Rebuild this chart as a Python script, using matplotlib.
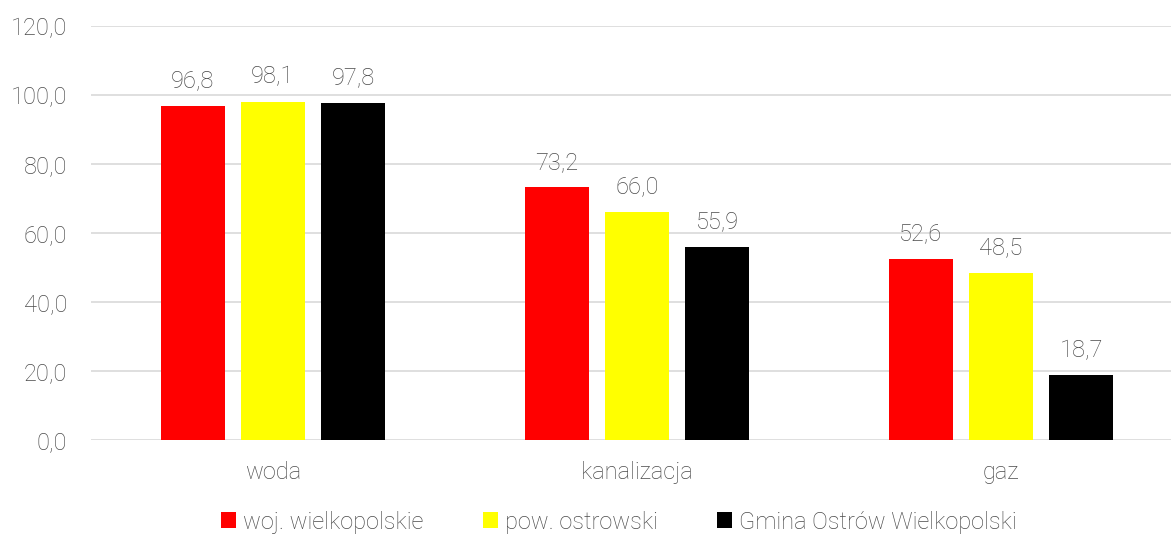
import numpy as np
import matplotlib.pyplot as plt

categories = ["woda", "kanalizacja", "gaz"]
series_names = ["woj. wielkopolskie", "pow. ostrowski", "Gmina Ostrów Wielkopolski"]
woj = [96.8, 73.2, 52.6]
pow_ = [98.1, 66.0, 48.5]
gmina = [97.8, 55.9, 18.7]
colors = ["#ff0000", "#ffff00", "#000000"]

plt.rcParams['font.family'] = ['Roboto', 'DejaVu Sans']
plt.rcParams['font.weight'] = 'light'
txt = "#4a4a4a"
fs = 17

fig = plt.figure(figsize=(11.71, 5.36), dpi=100)
ax = fig.add_axes([91 / 1171, 96 / 536, 1 - 91 / 1171, (440 - 26) / 536])

x = np.arange(len(categories))
w = 0.176
step = 0.22
bars = []
for i, (vals, name, c) in enumerate(zip([woj, pow_, gmina], series_names, colors)):
    b = ax.bar(x + (i - 1) * step, vals, w, color=c, label=name, zorder=3)
    bars.append(b)
    for xi, v in zip(x + (i - 1) * step, vals):
        ax.text(xi, v + 4.0, f"{v:.1f}".replace(".", ","), ha="center", va="bottom",
                fontsize=fs, color=txt, fontweight="light")

ax.set_xlim(-0.5, 2.467)
ax.set_ylim(0, 120)
ax.set_yticks(np.arange(0, 121, 20))
ax.set_yticklabels([f"{t:.1f}".replace(".", ",") for t in np.arange(0, 121, 20)])
ax.set_xticks(x)
ax.set_xticklabels(categories)
ax.tick_params(axis="both", length=0, labelsize=fs, colors=txt)
ax.tick_params(axis="x", pad=15)
ax.tick_params(axis="y", pad=17)
ax.grid(axis="y", color="#d9d9d9", linewidth=1.2, zorder=0)
for s in ax.spines.values():
    s.set_visible(False)

leg = fig.legend(handles=bars, labels=series_names, loc="center", bbox_to_anchor=(619 / 1171, 14 / 536),
                 ncol=3, frameon=False, fontsize=fs, handlelength=0.65, handleheight=0.65,
                 handletextpad=0.3, columnspacing=2.5, labelcolor=txt)

fig.savefig("out.png", dpi=100)
